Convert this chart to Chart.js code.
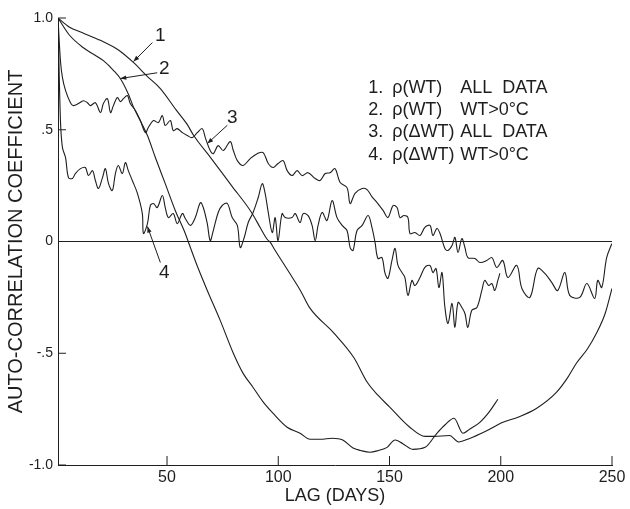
<!DOCTYPE html>
<html>
<head>
<meta charset="utf-8">
<script src="https://cdn.jsdelivr.net/npm/chart.js@4.4.1/dist/chart.umd.min.js"></script>
<style>
    html, body { margin: 0; padding: 0; background: #fff; }
    #wrap { width: 630px; height: 509px; }
</style>
</head>
<body>
<div id="wrap"><canvas id="acfChart" width="630" height="509"></canvas></div>
<script>
// 1. rho(WT) all data
const lag1 = [1, 6, 12, 20, 28, 35, 41, 47, 54, 59, 62, 70, 79, 88, 92, 95, 96.5, 98, 105, 110, 114, 125, 134, 140, 145, 150, 159, 166, 170, 177, 181, 186, 193, 201, 208, 216, 225, 230, 234, 239, 243, 247, 250];
const rho1 = [1.0, 0.96, 0.934, 0.9, 0.858, 0.80, 0.74, 0.684, 0.59, 0.525, 0.474, 0.37, 0.25, 0.13, 0.06, 0.01, -0.005, -0.03, -0.14, -0.22, -0.295, -0.41, -0.52, -0.63, -0.69, -0.74, -0.83, -0.872, -0.872, -0.868, -0.897, -0.881, -0.85, -0.809, -0.785, -0.747, -0.675, -0.61, -0.545, -0.48, -0.411, -0.32, -0.21];

// 2. rho(WT) WT>0C
const lag2 = [1, 6, 12.4, 21.4, 26, 29, 32.6, 35, 38, 41.2, 44.8, 49.2, 53.7, 58.2, 60.5, 64, 68.1, 73.9, 79.8, 84.2, 88.7, 93, 97.7, 104, 109.8, 114.3, 119, 124.2, 129, 133.6, 137, 141.2, 145, 148.9, 152.5, 156, 160.5, 166, 171.3, 175, 179, 183, 186, 190.6, 195, 198.7];
const rho2 = [1.0, 0.925, 0.867, 0.809, 0.765, 0.729, 0.66, 0.6, 0.54, 0.474, 0.375, 0.259, 0.139, 0.036, -0.027, -0.12, -0.219, -0.353, -0.5, -0.59, -0.653, -0.715, -0.769, -0.831, -0.858, -0.885, -0.885, -0.88, -0.888, -0.924, -0.935, -0.943, -0.935, -0.921, -0.888, -0.905, -0.93, -0.921, -0.858, -0.82, -0.791, -0.858, -0.84, -0.809, -0.76, -0.706];

// 3. rho(dWT) all data
const lag3 = [1, 2.1, 3, 4.4, 6.6, 7.9, 10.2, 12.4, 14.2, 15.6,
    17.8, 20.1, 21.4, 23.2, 24.6, 25.9, 27.7, 29, 30.4, 32.2,
    33.5, 35.8, 38, 40.3, 41.6, 43.9, 46.1, 47.9, 49.2, 51.5,
    52.8, 54.6, 56.9, 59.1, 61.4, 63.6, 65.8, 67.2, 69.4, 70.8,
    73, 75.3, 78.4, 79.8, 81.6, 84.2, 87.4, 90.5, 93.2, 95.5,
    97.7, 99.9, 102.2, 104, 106.2, 108.5, 110.7, 113.4, 116.6, 118.8,
    121.1, 123.3, 125.5, 127.8, 130.9, 132.3, 134.5, 137.7, 139.9, 142.1,
    144.4, 147.1, 149.3, 151.6, 153.4, 154.7, 156.5, 158.3, 159.2, 161.4,
    163.7, 165.9, 168.2, 169.5, 171.3, 172.7, 174.9, 176.3, 178.1, 179.4,
    180.8, 182.5, 183.9, 185.2, 188.4, 190.6, 193.7, 196, 198.2, 200.9,
    203.2, 207.2, 209.5, 213.1, 216.6, 219.8, 222.9, 225.6, 228.8, 231,
    235.5, 238.7, 242.2, 243.6, 245.4, 247.6, 249.9];
const rho3 = [1.0, 0.809, 0.733, 0.675, 0.621, 0.608, 0.617, 0.63, 0.621, 0.608,
    0.621, 0.577, 0.617, 0.639, 0.577, 0.608, 0.644, 0.626, 0.639, 0.653,
    0.617, 0.586, 0.541, 0.487, 0.51, 0.541, 0.532, 0.563, 0.519, 0.541,
    0.496, 0.505, 0.487, 0.474, 0.465, 0.487, 0.505, 0.465, 0.407, 0.393,
    0.429, 0.407, 0.447, 0.407, 0.362, 0.34, 0.371, 0.393, 0.398, 0.349,
    0.331, 0.349, 0.362, 0.317, 0.295, 0.317, 0.295, 0.308, 0.282, 0.273,
    0.304, 0.308, 0.326, 0.264, 0.241, 0.17, 0.215, 0.237, 0.232, 0.201,
    0.174, 0.139, 0.107, 0.161, 0.152, 0.107, 0.116, 0.107, 0.036, 0.04,
    0.027, 0.063, 0.072, 0.027, 0.058, 0.036, -0.031, -0.04, -0.018, 0.018,
    -0.049, 0.013, -0.027, -0.072, -0.076, -0.094, -0.085, -0.072, -0.116, -0.085,
    -0.161, -0.107, -0.21, -0.25, -0.121, -0.143, -0.183, -0.219, -0.139, -0.241,
    -0.25, -0.188, -0.255, -0.174, -0.206, -0.072, -0.01];

// 4. rho(dWT) WT>0C
const lag4 = [1, 2.1, 3, 4.4, 5.7, 7.5, 8.8, 11.1, 13.3, 14.7,
    16.5, 17.8, 19.2, 21, 22.3, 23.7, 25.4, 26.8, 28.1, 29.9,
    31.3, 32.6, 34.4, 36.7, 38.9, 39.4, 41.2, 42.5, 43.9, 45.6,
    47.9, 49.2, 50.6, 52.8, 54.6, 56.9, 58.2, 60.5, 62.7, 65,
    66.3, 68.1, 69.4, 70.8, 73, 74.8, 77.1, 79.3, 81.6, 82.9,
    84.7, 86.5, 88.7, 91, 92.8, 94.1, 95.5, 97.3, 98.6, 99.9,
    101.7, 103.1, 106.2, 107.6, 109.8, 111.2, 113.4, 115.2, 116.6, 117.9,
    119.7, 121.9, 124.2, 126.4, 128.7, 130.9, 132.3, 133.6, 135.4, 137.7,
    140.4, 142.1, 143.5, 144.8, 146.6, 148, 149.3, 151.1, 152.5, 153.8,
    155.6, 156.9, 158.3, 160.1, 161.4, 163.7, 165.9, 168.2, 169.5, 170.9,
    172.2, 173.6, 174.9, 176.3, 178.1, 179.4, 180.8, 182.5, 183.9, 185.2,
    187, 189.3, 191.5, 192.8, 194.6, 196, 197.3, 198.7, 199.6];
const rho4 = [1.0, 0.541, 0.42, 0.375, 0.286, 0.282, 0.304, 0.326, 0.331, 0.295,
    0.317, 0.273, 0.237, 0.286, 0.326, 0.259, 0.228, 0.304, 0.34, 0.304,
    0.353, 0.317, 0.273, 0.215, 0.125, 0.036, 0.08, 0.161, 0.17, 0.152,
    0.206, 0.152, 0.107, 0.125, 0.08, 0.125, 0.103, 0.072, 0.107, 0.174,
    0.152, 0.08, 0.004, 0.049, 0.13, 0.161, 0.17, 0.107, 0.072, -0.027,
    0.018, 0.085, 0.13, 0.197, 0.259, 0.215, 0.13, 0.04, 0.107, 0.004,
    0.125, 0.107, 0.107, 0.125, 0.085, 0.125, 0.116, 0.072, 0.004, 0.072,
    0.13, 0.094, 0.183, 0.107, 0.072, 0.049, -0.027, -0.04, 0.049, 0.072,
    0.116, 0.063, -0.004, -0.076, -0.072, -0.143, -0.165, -0.085, -0.031, -0.107,
    -0.139, -0.161, -0.241, -0.174, -0.197, -0.161, -0.116, -0.107, -0.139, -0.121,
    -0.206, -0.139, -0.295, -0.367, -0.277, -0.384, -0.273, -0.295, -0.322, -0.384,
    -0.308, -0.295, -0.219, -0.174, -0.197, -0.188, -0.219, -0.174, -0.143];

const zeroLag = [1, 250];
const zeroRho = [0, 0];

const xTicks = [50, 100, 150, 200, 250];
const yTicks = [-1, -0.5, 0, 0.5, 1];
const yTickLabels = ['-1.0', '-.5', '0', '.5', '1.0'];

const legendRows = [
    ['1.', 'ρ(WT)', 'ALL  DATA'],
    ['2.', 'ρ(WT)', 'WT>0°C'],
    ['3.', 'ρ(ΔWT)', 'ALL  DATA'],
    ['4.', 'ρ(ΔWT)', 'WT>0°C']
];

// numbered call-outs, placed in data units (lag, coefficient)
const callouts = [
    { text: '1', label: [47, 0.92], tail: [43.4, 0.89], head: [34.9, 0.805] },
    { text: '2', label: [48.8, 0.775], tail: [45.6, 0.755], head: [29, 0.729] },
    { text: '3', label: [79.3, 0.555], tail: [77.1, 0.52], head: [68.1, 0.438] },
    { text: '4', label: [48.8, -0.14], tail: [47, -0.094], head: [41.2, 0.067] }
];
const legendAnchor = [140.4, 0.666];

const ink = '#1e1e1e';
const fontFamily = "'Liberation Sans', Arial, sans-serif";

const pts = (xs, ys) => xs.map((x, i) => ({ x: x, y: ys[i] }));

const curve = (data, smooth) => ({
    data: data,
    borderColor: ink,
    borderWidth: 1.1,
    pointRadius: 0,
    fill: false,
    tension: 0.35,
    cubicInterpolationMode: smooth ? 'monotone' : 'default'
});

function drawLine(ctx, x1, y1, x2, y2) {
    ctx.beginPath();
    ctx.moveTo(x1, y1);
    ctx.lineTo(x2, y2);
    ctx.stroke();
}

// inward ticks, numbered arrows and the text legend
const inkPlugin = {
    id: 'ink',
    afterDraw(chart) {
        const ctx = chart.ctx;
        const x = chart.scales.x;
        const y = chart.scales.y;
        ctx.save();
        ctx.strokeStyle = ink;
        ctx.fillStyle = ink;
        ctx.lineWidth = 1;

        xTicks.forEach(v => {
            const px = x.getPixelForValue(v);
            drawLine(ctx, px, y.bottom, px, y.bottom - 9);
        });
        yTicks.forEach(v => {
            const py = y.getPixelForValue(v);
            drawLine(ctx, x.left, py, x.left + 8, py);
        });

        ctx.font = '19px ' + fontFamily;
        ctx.textAlign = 'center';
        ctx.textBaseline = 'middle';
        callouts.forEach(c => {
            const lx = x.getPixelForValue(c.label[0]), ly = y.getPixelForValue(c.label[1]);
            const tx = x.getPixelForValue(c.tail[0]), ty = y.getPixelForValue(c.tail[1]);
            const hx = x.getPixelForValue(c.head[0]), hy = y.getPixelForValue(c.head[1]);
            ctx.fillText(c.text, lx, ly);
            drawLine(ctx, tx, ty, hx, hy);
            const a = Math.atan2(hy - ty, hx - tx);
            ctx.beginPath();
            ctx.moveTo(hx, hy);
            ctx.lineTo(hx - 6 * Math.cos(a) + 2.2 * Math.sin(a), hy - 6 * Math.sin(a) - 2.2 * Math.cos(a));
            ctx.lineTo(hx - 6 * Math.cos(a) - 2.2 * Math.sin(a), hy - 6 * Math.sin(a) + 2.2 * Math.cos(a));
            ctx.closePath();
            ctx.fill();
        });

        const ax = x.getPixelForValue(legendAnchor[0]);
        const ay = y.getPixelForValue(legendAnchor[1]);
        ctx.font = '18px ' + fontFamily;
        ctx.textAlign = 'left';
        ctx.textBaseline = 'alphabetic';
        legendRows.forEach((row, i) => {
            const by = ay + i * 22.3;
            ctx.fillText(row[0], ax, by);
            ctx.fillText(row[1], ax + 24, by);
            ctx.fillText(row[2], ax + 92, by);
        });
        ctx.restore();
    }
};

const ctx = document.getElementById('acfChart').getContext('2d');

window.acfChart = new Chart(ctx, {
    type: 'line',
    data: {
        datasets: [
            curve(pts(zeroLag, zeroRho), true),
            curve(pts(lag1, rho1), true),
            curve(pts(lag2, rho2), true),
            curve(pts(lag3, rho3), false),
            curve(pts(lag4, rho4), false)
        ]
    },
    options: {
        responsive: false,
        animation: false,
        devicePixelRatio: 1,
        layout: { padding: { top: 18, right: 18, left: 0, bottom: 0 } },
        plugins: {
            legend: { display: false },
            tooltip: { enabled: false }
        },
        scales: {
            x: {
                type: 'linear',
                min: 1,
                max: 250,
                afterBuildTicks: (scale) => { scale.ticks = xTicks.map(v => ({ value: v })); },
                afterFit: (scale) => { scale.height = 44; },
                grid: { drawOnChartArea: false, drawTicks: false },
                border: { display: true, color: ink, width: 1 },
                ticks: {
                    color: ink,
                    padding: 3,
                    maxRotation: 0,
                    font: { family: fontFamily, size: 16 }
                },
                title: {
                    display: true,
                    text: 'LAG (DAYS)',
                    color: ink,
                    padding: { top: 0, bottom: 2 },
                    font: { family: fontFamily, size: 18 }
                }
            },
            y: {
                min: -1,
                max: 1,
                afterBuildTicks: (scale) => { scale.ticks = yTicks.map(v => ({ value: v })); },
                afterFit: (scale) => { scale.width = 58; },
                grid: { drawOnChartArea: false, drawTicks: false },
                border: { display: true, color: ink, width: 1 },
                ticks: {
                    color: ink,
                    padding: 5,
                    font: { family: fontFamily, size: 14 },
                    callback: (v) => yTickLabels[yTicks.indexOf(v)]
                },
                title: {
                    display: true,
                    text: 'AUTO-CORRELATION COEFFICIENT',
                    color: ink,
                    padding: { top: 4, bottom: 0 },
                    font: { family: fontFamily, size: 20 }
                }
            }
        }
    },
    plugins: [inkPlugin]
});
</script>
</body>
</html>
